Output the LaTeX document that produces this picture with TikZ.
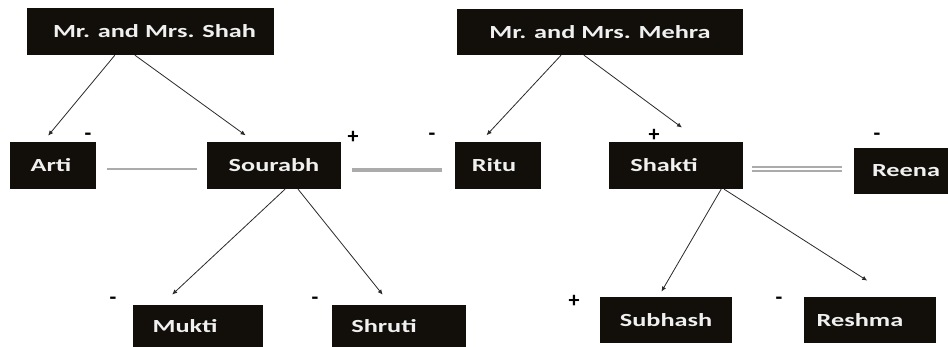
\documentclass[tikz,border=0pt]{standalone}
\usepackage{fontspec}
\setmainfont{Carlito}
\usetikzlibrary{calc,arrows.meta}
\definecolor{boxfill}{HTML}{120E0A}
\definecolor{linkgrey}{HTML}{ABABAB}
\definecolor{arrowcol}{HTML}{2A2A2A}
\newcommand{\wtxt}[2][0]{\scalebox{1.42}[1]{#2}\hspace*{#1pt}}
\tikzset{
  person/.style={rectangle, fill=boxfill, text=white!94!black, inner sep=0pt,
    font=\fontsize{18.5}{20}\selectfont\bfseries},
  sign/.style={inner sep=0pt, text=black, font=\fontsize{22}{24}\selectfont\bfseries},
  child/.style={draw=arrowcol, line width=0.8pt, -{Latex[length=5pt,width=4.5pt]}},
  marriage/.style={draw=linkgrey, line width=1.8pt},
  marriagebold/.style={draw=linkgrey, line width=3.4pt},
  marriagedouble/.style={draw=linkgrey, line width=1.8pt, double=white, double distance=2pt}
}
\begin{document}
\begin{tikzpicture}[x=1pt,y=-1pt]
\clip (0,0) rectangle (948,347);
\fill[white] (0,0) rectangle (948,347);
% boxes
\node[person, minimum width=247pt, minimum height=47pt] (shah) at (150.5,31.5) {\wtxt[-8]{Mr. and Mrs. Shah}};
\node[person, minimum width=286pt, minimum height=46pt] (mehra) at (600,32) {\wtxt{Mr. and Mrs. Mehra}};
\node[person, minimum width=86pt, minimum height=47pt] (arti) at (53,165.5) {\wtxt[4]{Arti}};
\node[person, minimum width=134pt, minimum height=47pt] (sourabh) at (274,165.5) {\wtxt{Sourabh}};
\node[person, minimum width=86pt, minimum height=47pt] (ritu) at (498,165.5) {\wtxt[8]{Ritu}};
\node[person, minimum width=134pt, minimum height=47pt] (shakti) at (676,165.5) {\wtxt[24]{Shakti}};
\node[person, minimum width=96pt, minimum height=46pt] (reena) at (902,171) {\hspace*{8pt}\wtxt{Reena}};
\node[person, minimum width=130pt, minimum height=45pt] (mukti) at (198,327.5) {\raisebox{3pt}{\wtxt[26]{Mukti}}};
\node[person, minimum width=134pt, minimum height=45pt] (shruti) at (399,327.5) {\raisebox{3pt}{\wtxt[30]{Shruti}}};
\node[person, minimum width=132pt, minimum height=46pt] (subhash) at (666,320) {\wtxt{Subhash}};
\node[person, minimum width=132pt, minimum height=46pt] (reshma) at (870,320) {\wtxt[20]{Reshma}};
% signs
\node[sign] (s1) at (88,137) {-};
\node[sign] (s2) at (353,137) {+};
\node[sign] (s3) at (432,137) {-};
\node[sign] (s4) at (654,135) {+};
\node[sign] (s5) at (877,137) {-};
\node[sign] (s6) at (113,301) {-};
\node[sign] (s7) at (315,301) {-};
\node[sign] (s8) at (574,301) {+};
\node[sign] (s9) at (779,301) {-};
% parent -> child arrows
\draw[child, shorten >=8pt] ($(shah.south west)!0.356!(shah.south east)$) -- ($(arti.north west)!0.385!(arti.north east)$);
\draw[child, shorten >=11pt] ($(shah.south west)!0.437!(shah.south east)$) -- ($(sourabh.north west)!0.355!(sourabh.north east)$);
\draw[child, shorten >=9pt] ($(mehra.south west)!0.364!(mehra.south east)$) -- ($(ritu.north west)!0.297!(ritu.north east)$);
\draw[child, shorten >=24pt] ($(mehra.south west)!0.444!(mehra.south east)$) -- ($(shakti.north west)!0.688!(shakti.north east)$);
\draw[child, shorten >=15pt] ($(sourabh.south west)!0.582!(sourabh.south east)$) -- ($(mukti.north west)!0.218!(mukti.north east)$);
\draw[child, shorten >=13pt] ($(sourabh.south west)!0.679!(sourabh.south east)$) -- ($(shruti.north west)!0.439!(shruti.north east)$);
\draw[child, shorten >=6pt] ($(shakti.south west)!0.836!(shakti.south east)$) -- ($(subhash.north west)!0.443!(subhash.north east)$);
\draw[child, shorten >=30pt] ($(shakti.south west)!0.858!(shakti.south east)$) -- ($(reshma.north west)!0.67!(reshma.north east)$);
% marriage links
\draw[marriage] ($(arti.east)+(11,3.5)$) -- ($(sourabh.west)+(-10,3.5)$);
\draw[marriagebold] ($(sourabh.east)+(11,4.5)$) -- ($(ritu.west)+(-13,4.5)$);
\draw[marriagedouble] ($(shakti.east)+(9,3.5)$) -- ($(reena.west)+(-12,-2)$);
\end{tikzpicture}
\end{document}
